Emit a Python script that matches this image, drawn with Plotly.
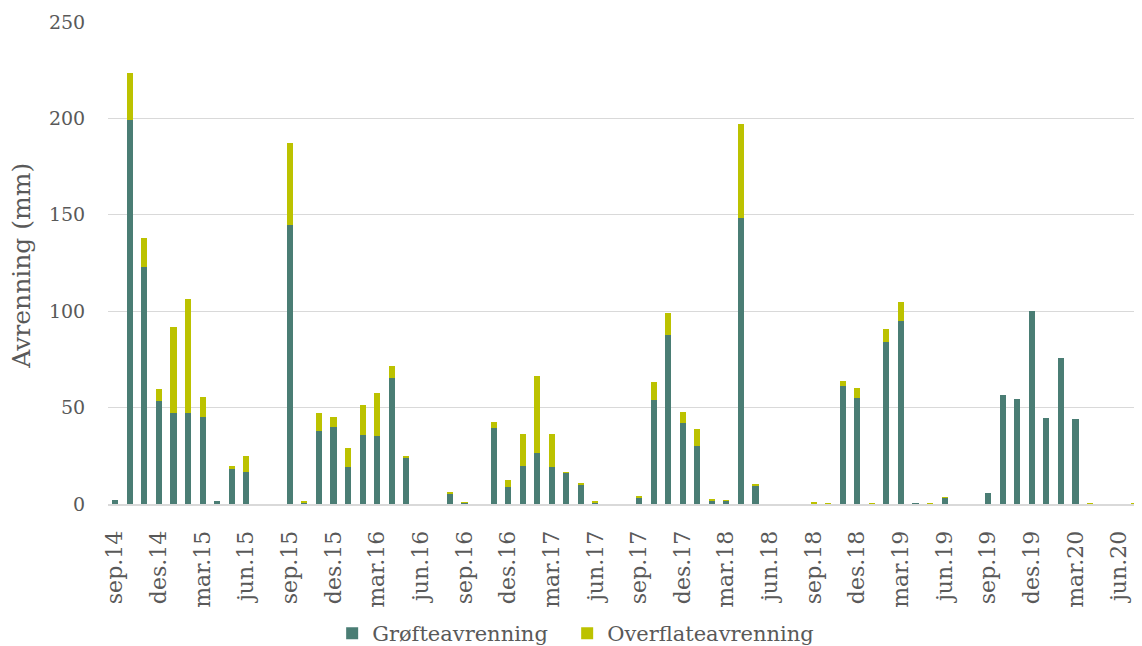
import plotly.graph_objects as go

months = ["jan", "feb", "mar", "apr", "mai", "jun", "jul", "aug", "sep", "okt", "nov", "des"]
# Monthly categories sep.14 .. jul.20
categories = []
m, y = 8, 14
while not (y == 20 and m == 7):
    categories.append(f"{months[m]}.{y}")
    m += 1
    if m == 12:
        m, y = 0, y + 1

grofteavrenning = [
    2, 199, 123, 53.5, 47, 47, 45, 1.7, 18.3, 16.5, 0, 0,
    144.7, 1.0, 37.7, 39.8, 19, 35.6, 35.1, 65.1, 24.2, 0, 0, 5.6,
    0.6, 0, 39.2, 8.7, 19.8, 26.6, 19.2, 16.1, 10.3, 0.6, 0, 0,
    3.5, 53.8, 87.9, 42, 29.9, 1.6, 1.6, 148.4, 9.7, 0, 0, 0,
    0.3, 0.1, 61.2, 54.8, 0.1, 84.1, 95.1, 0.5, 0.2, 3.2, 0, 0,
    5.9, 56.6, 54.5, 100, 44.8, 75.9, 44.3, 0.3, 0, 0, 0.3,
]
overflateavrenning = [
    0, 24.5, 15, 6.4, 44.8, 59.3, 10.7, 0, 1.6, 8.6, 0, 0,
    42.6, 0.4, 9.4, 5.5, 9.9, 15.6, 22.5, 6.4, 0.5, 0, 0, 0.7,
    0.2, 0, 3.1, 3.7, 16.6, 40, 17, 0.3, 0.5, 0.5, 0, 0,
    0.5, 9.5, 11.1, 5.9, 8.9, 0.5, 0.3, 48.5, 0.3, 0, 0, 0,
    0.8, 0.3, 2.4, 5.2, 0.3, 6.5, 9.6, 0, 0.2, 0.4, 0, 0,
    0, 0, 0, 0, 0, 0, 0, 0.1, 0, 0, 0.1,
]
tick_labels = categories[::3]

GREEN = "#4a7d74"
YELLOW = "#bcc200"
FONT = "Georgia, 'DejaVu Serif', serif"
TXT = "#595959"

fig = go.Figure()
fig.add_trace(go.Bar(x=categories, y=grofteavrenning, name="Grøfteavrenning",
                     marker=dict(color=GREEN, line=dict(width=0)), legend="legend",
                     showlegend=True))
fig.add_trace(go.Bar(x=categories, y=overflateavrenning, name="Overflateavrenning",
                     marker=dict(color=YELLOW, line=dict(width=0)), legend="legend2",
                     showlegend=True))

legend_common = dict(orientation="h", xanchor="left", yref="container", y=-0.0093,
                     yanchor="bottom", font=dict(size=21, color=TXT), itemwidth=30,
                     bgcolor="rgba(0,0,0,0)")

fig.update_layout(
    showlegend=True,
    barmode="stack",
    bargap=0.58,
    width=1142, height=646,
    margin=dict(l=100, r=9, t=14, b=150, autoexpand=False),
    paper_bgcolor="white", plot_bgcolor="white",
    font=dict(family=FONT, color=TXT, size=19),
    legend=dict(x=0.217, **legend_common),
    legend2=dict(x=0.4445, **legend_common),
    xaxis=dict(type="category", tickmode="array", tickvals=tick_labels, ticktext=tick_labels,
               tickangle=-90, tickfont=dict(size=22, color=TXT), showgrid=False,
               showline=True, linecolor="#d9d9d9", linewidth=2, ticks="outside", ticklen=16,
               tickcolor="rgba(0,0,0,0)", zeroline=False, automargin=False),
    yaxis=dict(range=[0, 250], dtick=50, showgrid=True, gridcolor="#d9d9d9", gridwidth=1.3,
               zeroline=False, showline=False, ticks="outside", ticklen=18,
               tickcolor="rgba(0,0,0,0)", tickfont=dict(size=19, color=TXT),
               automargin=False),
    annotations=[dict(text="Avrenning (mm)", textangle=-90, xref="paper", yref="paper",
                      x=-0.0833, y=0.494, xanchor="center", yanchor="middle",
                      showarrow=False, font=dict(size=25, color=TXT))],
)

fig.write_html("out.html")
